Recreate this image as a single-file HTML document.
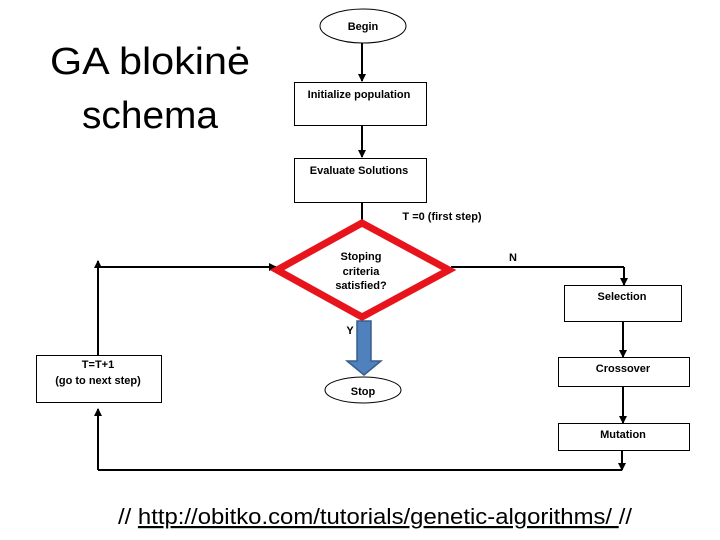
<!DOCTYPE html>
<html><head><style>body{margin:0;background:#fff}svg{display:block}</style></head><body>
<svg width="720" height="540" xmlns="http://www.w3.org/2000/svg" font-family="Liberation Sans, sans-serif">
<defs><marker id="a" markerWidth="8" markerHeight="8" refX="7" refY="4" orient="auto" markerUnits="userSpaceOnUse"><path d="M0,0 L8,4 L0,8z" fill="#000"/></marker></defs>
<text x="150" y="74" font-size="38" text-anchor="middle" fill="#000" textLength="200" lengthAdjust="spacingAndGlyphs">GA blokinė</text>
<text x="150" y="128" font-size="38" text-anchor="middle" fill="#000" textLength="136" lengthAdjust="spacingAndGlyphs">schema</text>
<g stroke="#000" stroke-width="2" fill="none">
<line x1="362" y1="43" x2="362" y2="81" marker-end="url(#a)"/>
<line x1="362" y1="125" x2="362" y2="157" marker-end="url(#a)"/>
<line x1="362" y1="202" x2="362" y2="237" marker-end="url(#a)"/>
<line x1="98" y1="267" x2="276" y2="267" marker-end="url(#a)"/>
<line x1="98" y1="355" x2="98" y2="261" marker-end="url(#a)"/>
<line x1="98" y1="470" x2="98" y2="409" marker-end="url(#a)"/>
<line x1="622" y1="470" x2="98" y2="470"/>
<line x1="451" y1="267" x2="624" y2="267"/>
<line x1="624" y1="267" x2="624" y2="285" marker-end="url(#a)"/>
<line x1="623" y1="321" x2="623" y2="357" marker-end="url(#a)"/>
<line x1="623" y1="386" x2="623" y2="423" marker-end="url(#a)"/>
<line x1="622" y1="450" x2="622" y2="470" marker-end="url(#a)"/>
</g>
<g stroke="#000" stroke-width="1" fill="#fff">
<ellipse cx="363" cy="26" rx="43" ry="17"/>
<rect x="294.5" y="82.5" width="132" height="43"/>
<rect x="294.5" y="158.5" width="132" height="44"/>
<rect x="36.5" y="355.5" width="125" height="47"/>
<rect x="564.5" y="285.5" width="117" height="36"/>
<rect x="558.5" y="357.5" width="131" height="29"/>
<rect x="558.5" y="423.5" width="131" height="27"/>
<ellipse cx="363" cy="390" rx="38" ry="13"/>
</g>
<polygon points="362,223 277,270 362,317 449,270" fill="#fff" stroke="#e8141c" stroke-width="7"/>
<polygon points="357,321 371,321 371,361 381,361 364,375 347,361 357,361" fill="#4f81bd" stroke="#385d8a" stroke-width="1.5"/>
<g font-size="11" font-weight="bold" text-anchor="middle" fill="#000">
<text x="363" y="30">Begin</text>
<text x="359" y="98">Initialize population</text>
<text x="359" y="174">Evaluate Solutions</text>
<text x="442" y="220">T =0  (first step)</text>
<text x="361" y="260">Stoping</text>
<text x="361" y="275">criteria</text>
<text x="361" y="289">satisfied?</text>
<text x="513" y="261">N</text>
<text x="350" y="334">Y</text>
<text x="622" y="300">Selection</text>
<text x="623" y="372">Crossover</text>
<text x="623" y="438">Mutation</text>
<text x="363" y="395">Stop</text>
<text x="98" y="368">T=T+1</text>
<text x="98" y="384">(go to next step)</text>
</g>
<text x="375" y="524" font-size="22" text-anchor="middle" fill="#000" textLength="514" lengthAdjust="spacingAndGlyphs">// <tspan text-decoration="underline">http://obitko.com/tutorials/genetic-algorithms/ </tspan>//</text>
</svg>
</body></html>
